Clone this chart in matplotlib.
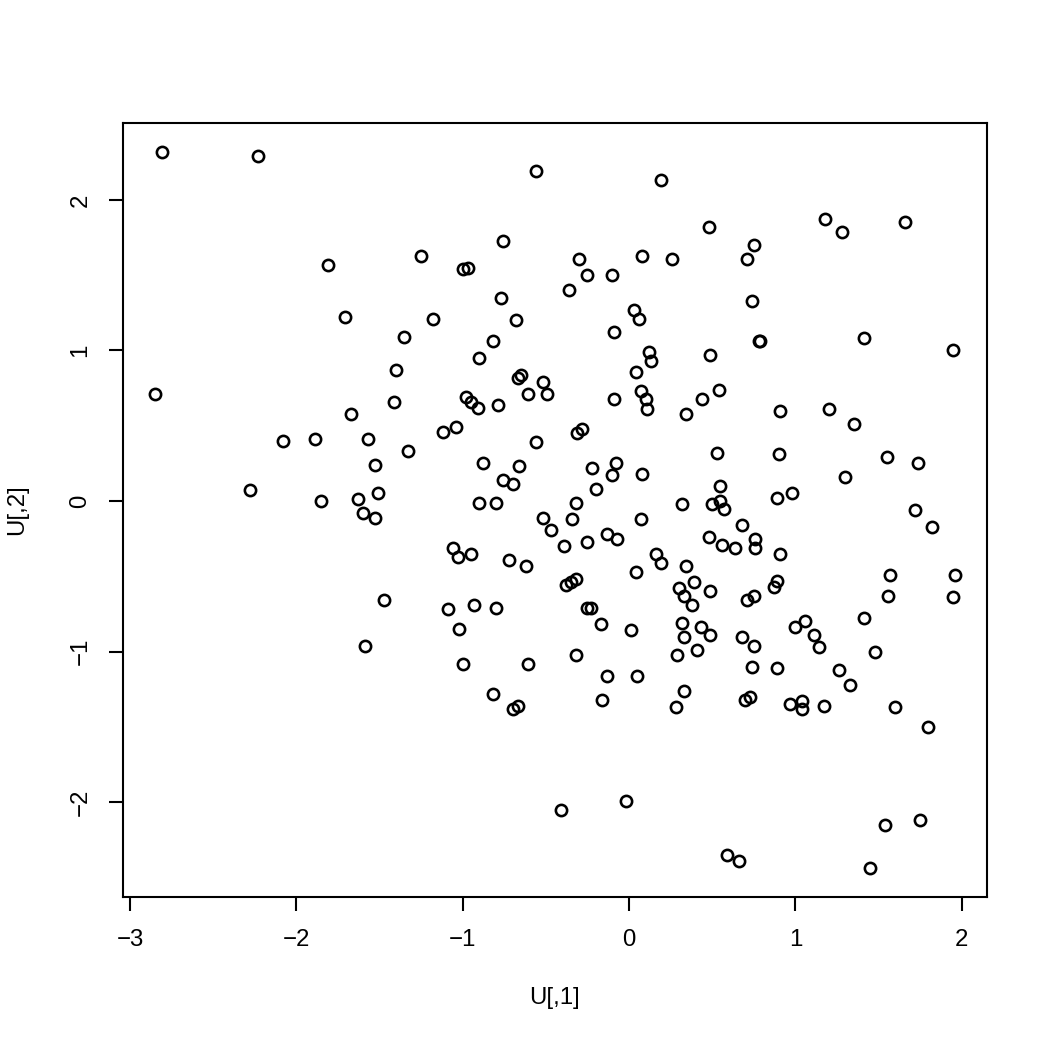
import numpy as np
import matplotlib
matplotlib.use("Agg")
import matplotlib.pyplot as plt

plt.rcParams['font.family'] = ['Liberation Sans', 'DejaVu Sans']

# first column of U
u1 = [-2.81, -2.23, -1.81, -1.71, -1.35, -1.40, -0.56, 0.19, -0.76, -1.25,
      -1.00, -0.97, -0.30, 0.08, 0.26, -0.25, -0.10, -0.36, -0.77, -1.18,
      -0.68, -0.09, 0.03, 0.06, -0.82, -0.90, 0.12, 0.13, 0.04, -0.65,
      -0.67, 0.48, 1.18, 1.28, 1.66, 0.75, 0.71, 0.74, 0.78, 0.79,
      1.41, 1.95, 0.49,
      -0.52, -2.85, -1.41, -1.67, -2.08, -1.89, -1.57, -1.33, -1.53, -2.28,
      -1.85, -1.63, -1.51, -1.60, -1.53, -1.47, -0.98, -0.95, -0.91, -0.79,
      -0.61, -0.49, -0.09, 0.07, 0.10, 0.11, 0.34, -1.12, -1.04, -0.56,
      -0.31, -0.28, -0.88, -0.66, -0.76, -0.70, -0.22, -0.08, -0.10, 0.08,
      -0.20, -0.90, -0.80, -0.32, -0.52, -0.34, 0.32, -0.47, 0.07, -0.39,
      -0.25, -0.13, -0.07, -1.06, -1.03, -0.95, -0.72, -0.62, 0.16, 0.19,
      0.34, 0.04, -0.38, -0.35, -0.32, 0.30, 0.39, 0.33, 0.38, -1.09,
      -0.93, -0.80, -0.25, -0.23, -1.02, -0.17, 0.01, 0.32, 0.33, 0.43,
      0.54, 0.44, 0.91, 1.20, 1.35, 0.53, 0.90, 1.55, 1.74, 1.30,
      0.55, 0.50, 0.55, 0.57, 0.89, 0.98, 1.72, 1.82, 0.68, 0.48,
      0.56, 0.64, 0.76, 0.76, 0.91, 1.57, 1.96, 1.56, 1.95, 0.49,
      0.87, 0.89, 0.71, 0.75, 1.41, 1.00, 1.06, 1.11, 0.49, 0.68,
      -1.59,
      -1.00, -0.61, -0.32, -0.13, 0.05, -0.82, -0.70, -0.67, -0.16, 0.29,
      0.41, 0.33, 0.28, -0.41, -0.02, 0.75, 1.14, 1.48, 0.74, 0.89,
      1.26, 1.33, 0.70, 0.73, 0.97, 1.04, 1.04, 1.17, 1.60, 1.80,
      1.54, 1.75, 0.59, 0.66, 1.45]

# second column of U
u2 = [2.32, 2.29, 1.57, 1.22, 1.09, 0.87, 2.19, 2.13, 1.73, 1.63,
      1.54, 1.55, 1.61, 1.63, 1.61, 1.50, 1.50, 1.40, 1.35, 1.21,
      1.20, 1.12, 1.27, 1.21, 1.06, 0.95, 0.99, 0.93, 0.86, 0.84,
      0.82, 1.82, 1.87, 1.79, 1.85, 1.70, 1.61, 1.33, 1.06, 1.06,
      1.08, 1.00, 0.97,
      0.79, 0.71, 0.66, 0.58, 0.40, 0.41, 0.41, 0.33, 0.24, 0.07,
      0.00, 0.01, 0.05, -0.08, -0.11, -0.66, 0.69, 0.66, 0.62, 0.64,
      0.71, 0.71, 0.68, 0.73, 0.68, 0.61, 0.58, 0.46, 0.49, 0.39,
      0.45, 0.48, 0.25, 0.23, 0.14, 0.11, 0.22, 0.25, 0.17, 0.18,
      0.08, -0.01, -0.01, -0.01, -0.11, -0.12, -0.02, -0.19, -0.12, -0.30,
      -0.27, -0.22, -0.25, -0.31, -0.37, -0.35, -0.39, -0.43, -0.35, -0.41,
      -0.43, -0.47, -0.56, -0.54, -0.52, -0.58, -0.54, -0.63, -0.69, -0.72,
      -0.69, -0.71, -0.71, -0.71, -0.85, -0.82, -0.86, -0.81, -0.90, -0.84,
      0.74, 0.68, 0.60, 0.61, 0.51, 0.32, 0.31, 0.29, 0.25, 0.16,
      0.10, -0.02, 0.00, -0.05, 0.02, 0.05, -0.06, -0.17, -0.16, -0.24,
      -0.29, -0.31, -0.25, -0.31, -0.35, -0.49, -0.49, -0.63, -0.64, -0.60,
      -0.57, -0.53, -0.66, -0.63, -0.78, -0.84, -0.80, -0.89, -0.89, -0.90,
      -0.96,
      -1.08, -1.08, -1.02, -1.16, -1.16, -1.28, -1.38, -1.36, -1.32, -1.02,
      -0.99, -1.26, -1.37, -2.05, -1.99, -0.96, -0.97, -1.00, -1.10, -1.11,
      -1.12, -1.22, -1.32, -1.30, -1.35, -1.33, -1.38, -1.36, -1.37, -1.50,
      -2.15, -2.12, -2.35, -2.39, -2.44]

xticks = [-3, -2, -1, 0, 1, 2]
yticks = [-2, -1, 0, 1, 2]

fig = plt.figure(figsize=(7, 7), dpi=150)
ax = fig.add_axes([0.1171, 0.1457, 0.8229, 0.7371])

ax.plot(u1, u2, linestyle='none', marker='o', markersize=5.4,
        markerfacecolor='none', markeredgecolor='black', markeredgewidth=1.25)
ax.margins(0.04)

ax.set_xticks(xticks)
ax.set_yticks(yticks)
ax.tick_params(direction='out', length=6.7, width=1.0, labelsize=11.5, pad=8.5,
               color='black')
for lab in ax.get_yticklabels():
    lab.set_rotation(90)
    lab.set_va('center')
for s in ax.spines.values():
    s.set_linewidth(1.0)

ax.set_xlabel('U[,1]', fontsize=11.5, va='center')
ax.set_ylabel('U[,2]', fontsize=11.5, va='center')
ax.xaxis.set_label_coords(0.5, -0.1305)
ax.yaxis.set_label_coords(-0.1227, 0.5)

fig.savefig('out.png', dpi=150)
